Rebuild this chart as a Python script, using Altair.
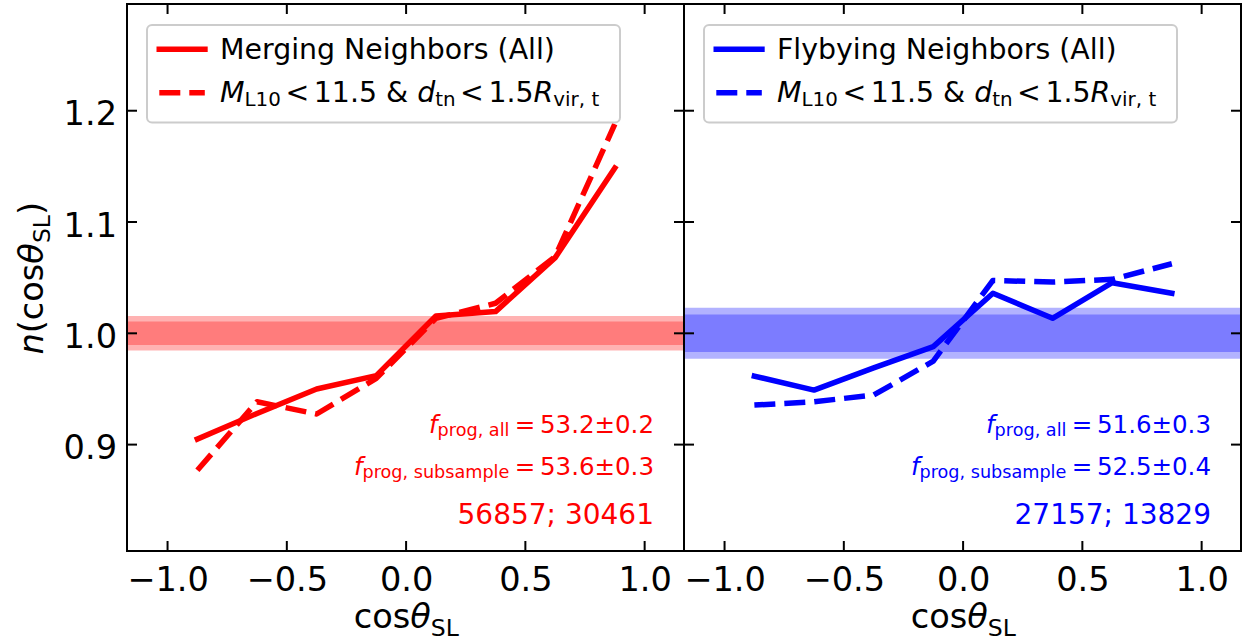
import altair as alt
import pandas as pd

FONT = "DejaVu Sans"
RED = "#ff0000"
BLUE = "#0000ff"

# ---- data ----
cos_bins = [-0.875, -0.625, -0.375, -0.125, 0.125, 0.375, 0.625, 0.875]
merge_all = [0.905, 0.928, 0.950, 0.962, 1.0155, 1.0195, 1.068, 1.1485]
merge_sub = [0.877, 0.9385, 0.9275, 0.9595, 1.0135, 1.027, 1.069, 1.188]
fly_all = [0.9615, 0.949, 0.969, 0.988, 1.036, 1.0135, 1.0455, 1.036]
fly_sub = [0.9355, 0.9385, 0.9445, 0.975, 1.0475, 1.046, 1.0485, 1.0625]
band_center = 1.0
merge_band = [0.0106, 0.0155]
fly_band = [0.0169, 0.0229]
x_ticks = [-1.0, -0.5, 0.0, 0.5, 1.0]
y_ticks = [0.9, 1.0, 1.1, 1.2]
x_domain = [-1.17, 1.165]
y_domain = [0.8044, 1.2959]
merge_label = "Merging Neighbors (All)"
fly_label = "Flybying Neighbors (All)"
merge_fall = "53.2±0.2"
merge_fsub = "53.6±0.3"
merge_counts = "56857; 30461"
fly_fall = "51.6±0.3"
fly_fsub = "52.5±0.4"
fly_counts = "27157; 13829"

# ---- layout constants ----
W, H = 557, 547
TICK_FS = 33.6
LEG_FS = 28.4
ANN_FS = 24.5
CNT_FS = 28
LW = 5.5
DASH = [21, 9]

# DejaVu Sans advance widths (units per em = 2048)
ADV = {' ': 651, '(': 799, ')': 799, ',': 651, '.': 651, ';': 690, '<': 1716,
       '=': 1716, '&': 1593, '±': 1716, 'θ': 1253}
for _d in '0123456789':
    ADV[_d] = 1303
ADV.update({'a': 1255, 'b': 1300, 'c': 1126, 'd': 1300, 'e': 1260, 'f': 721, 'g': 1300,
            'h': 1298, 'i': 569, 'l': 569, 'm': 1995, 'n': 1298, 'o': 1253, 'p': 1300,
            'r': 842, 's': 1067, 't': 803, 'u': 1298, 'v': 1212, 'y': 1212, 'A': 1401,
            'F': 1178, 'L': 1141, 'M': 1767, 'N': 1532, 'R': 1423, 'S': 1300})


def tw(s, size):
    return sum(ADV.get(c, 1250) for c in s) / 2048.0 * size


def one():
    return alt.Data(values=[{"a": 1}])


def txt(t, x, y, size, color, style="normal", angle=0, align="left"):
    return alt.Chart(alt.Data(values=[{"t": t}])).mark_text(
        align=align, baseline="alphabetic", font=FONT, fontSize=size,
        fontStyle=style, color=color, angle=angle
    ).encode(text="t:N", x=alt.value(x), y=alt.value(y))


def gap(px):
    return (None, px, "normal", 0)


def rich(segs, anchor, base, color, align="left"):
    widths = [tw(t, s) if t is not None else s for (t, s, st, sh) in segs]
    total = sum(widths)
    pos = anchor - {"left": 0, "center": total / 2, "right": total}[align]
    out = []
    for (t, s, st, sh), w in zip(segs, widths):
        if t is not None:
            out.append(txt(t, pos, base + sh, s, color, st))
        pos += w
    return out


def rich_vertical(segs, center_y, base_x, color):
    widths = [tw(t, s) if t is not None else s for (t, s, st, sh) in segs]
    total = sum(widths)
    pos = center_y + total / 2
    out = []
    for (t, s, st, sh), w in zip(segs, widths):
        if t is not None:
            out.append(txt(t, base_x + sh, pos, s, color, st, angle=270))
        pos -= w
    return out


def panel(color, legend_label, all_vals, sub_vals, band, f_all, f_sub, counts, show_y):
    xs = alt.Scale(domain=x_domain, nice=False, zero=False)
    ys = alt.Scale(domain=y_domain, nice=False, zero=False)
    xaxis = alt.Axis(values=x_ticks, format=".1f", title=None, ticks=False, domain=False,
                     grid=False, labelFont=FONT, labelFontSize=TICK_FS, labelColor="black",
                     labelPadding=12, labelFlush=False, labelOverlap=False)
    if show_y:
        yaxis = alt.Axis(values=y_ticks, format=".1f", title=None, ticks=False, domain=False,
                         grid=False, labelFont=FONT, labelFontSize=TICK_FS, labelColor="black",
                         labelPadding=10.5, labelOffset=4, labelOverlap=False)
    else:
        yaxis = None

    def X(f):
        return alt.X(f, scale=xs, axis=xaxis)

    def Y(f):
        return alt.Y(f, scale=ys, axis=yaxis)

    layers = []
    bdf = pd.DataFrame({"lo": [band_center - h for h in band],
                        "hi": [band_center + h for h in band]})
    layers.append(alt.Chart(bdf).mark_rect(color=color, opacity=0.3).encode(
        x=alt.value(0), x2=alt.value(W), y=Y("lo:Q"), y2="hi:Q"))

    sdf = pd.DataFrame({"c": cos_bins, "n": all_vals})
    ddf = pd.DataFrame({"c": cos_bins, "n": sub_vals})
    layers.append(alt.Chart(sdf).mark_line(color=color, strokeWidth=LW, strokeCap="square",
                                           strokeJoin="round").encode(x=X("c:Q"), y=Y("n:Q")))
    layers.append(alt.Chart(ddf).mark_line(color=color, strokeWidth=LW, strokeCap="butt",
                                           strokeJoin="round", strokeDash=DASH).encode(
        x=X("c:Q"), y=Y("n:Q")))

    # inward ticks on all four sides
    xt = pd.DataFrame({"tv": x_ticks})
    yt = pd.DataFrame({"tv": y_ticks})
    tick = dict(color="black", strokeWidth=2)
    layers.append(alt.Chart(xt).mark_rule(**tick).encode(
        x=X("tv:Q"), y=alt.value(H - 10), y2=alt.value(H)))
    layers.append(alt.Chart(xt).mark_rule(**tick).encode(
        x=X("tv:Q"), y=alt.value(0), y2=alt.value(10)))
    layers.append(alt.Chart(yt).mark_rule(**tick).encode(
        y=Y("tv:Q"), x=alt.value(0), x2=alt.value(10)))
    layers.append(alt.Chart(yt).mark_rule(**tick).encode(
        y=Y("tv:Q"), x=alt.value(W - 10), x2=alt.value(W)))

    # frame
    layers.append(alt.Chart(one()).mark_rect(fillOpacity=0, stroke="black", strokeWidth=2).encode(
        x=alt.value(0), x2=alt.value(W), y=alt.value(0), y2=alt.value(H)))

    # legend
    layers.append(alt.Chart(one()).mark_rect(fill="white", fillOpacity=0.8, stroke="#cccccc",
                                             strokeWidth=2, cornerRadius=5).encode(
        x=alt.value(20), x2=alt.value(493), y=alt.value(21), y2=alt.value(118.5)))
    layers.append(alt.Chart(one()).mark_rule(color=color, strokeWidth=LW, strokeCap="butt").encode(
        x=alt.value(29.5), x2=alt.value(80.7), y=alt.value(45.3)))
    layers.append(alt.Chart(one()).mark_rule(color=color, strokeWidth=LW, strokeCap="butt",
                                             strokeDash=DASH).encode(
        x=alt.value(32.3), x2=alt.value(77.8), y=alt.value(88.7)))
    layers.append(txt(legend_label, 93, 54.5, LEG_FS, "black"))
    sub = LEG_FS * 0.7
    sp = 0.16 * LEG_FS
    leg2 = [("M", LEG_FS, "italic", 0), ("L10", sub, "normal", 4.5), gap(sp), ("<", LEG_FS, "normal", 0),
            gap(sp), ("11.5", LEG_FS, "normal", 0), gap(tw(" ", LEG_FS)), ("&", LEG_FS, "normal", 0),
            gap(tw(" ", LEG_FS)), ("d", LEG_FS, "italic", 0), ("tn", sub, "normal", 4.5), gap(sp),
            ("<", LEG_FS, "normal", 0), gap(sp), ("1.5", LEG_FS, "normal", 0),
            ("R", LEG_FS, "italic", 0), ("vir, t", sub, "normal", 4.5)]
    layers += rich(leg2, 93, 97.7, "black")

    # annotations
    asub = ANN_FS * 0.72
    asp = 0.195 * ANN_FS
    ann1 = [("f", ANN_FS, "italic", 0), ("prog, all", asub, "normal", 3), gap(asp),
            ("=", ANN_FS, "normal", 0), gap(asp), (f_all, ANN_FS, "normal", 0)]
    ann2 = [("f", ANN_FS, "italic", 0), ("prog, subsample", asub, "normal", 3), gap(asp),
            ("=", ANN_FS, "normal", 0), gap(asp), (f_sub, ANN_FS, "normal", 0)]
    layers += rich(ann1, 527, 428.7, color, align="right")
    layers += rich(ann2, 527, 471, color, align="right")
    layers.append(txt(counts, 527, 520, CNT_FS, color, align="right"))

    # x title
    xt_segs = [("cos", TICK_FS, "normal", 0), ("θ", TICK_FS, "italic", 0),
               ("SL", TICK_FS * 0.7, "normal", 8)]
    layers += rich(xt_segs, 279.3, 624.3, "black", align="center")

    if show_y:
        yt_segs = [("n", TICK_FS, "italic", 0), ("(", TICK_FS, "normal", 0),
                   ("cos", TICK_FS, "normal", 0), ("θ", TICK_FS, "italic", 0),
                   ("SL", TICK_FS * 0.7, "normal", 7), (")", TICK_FS, "normal", 0)]
        layers += rich_vertical(yt_segs, 274.3, -84.3, "black")

    return alt.layer(*layers).properties(width=W, height=H)


left = panel(RED, merge_label, merge_all, merge_sub, merge_band, merge_fall, merge_fsub,
             merge_counts, True)
right = panel(BLUE, fly_label, fly_all, fly_sub, fly_band, fly_fall, fly_fsub, fly_counts, False)

chart = alt.hconcat(left, right, spacing=0, bounds="flush").configure_view(
    strokeWidth=0).properties(
    padding={"left": 15, "top": 3, "right": 0, "bottom": 0}, background="white")

chart.save("out.html", embed_options={"renderer": "svg", "actions": False})
